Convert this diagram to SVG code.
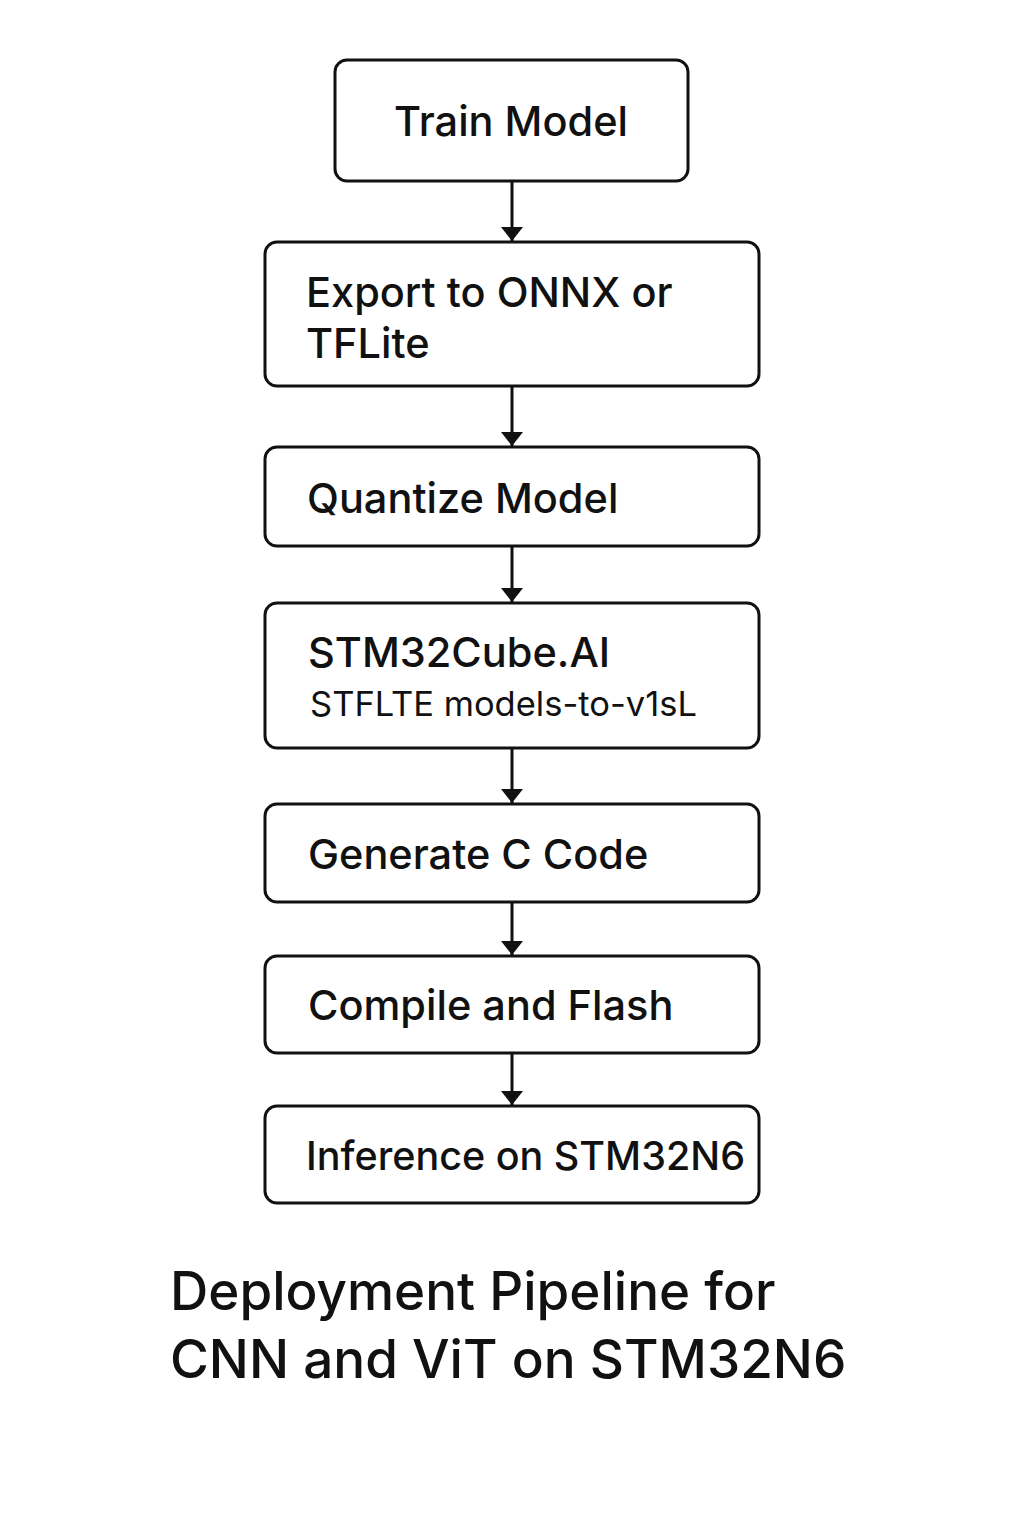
<svg xmlns="http://www.w3.org/2000/svg" width="1024" height="1536" viewBox="0 0 1024 1536">
<defs>
<style>
.box{fill:#fff;stroke:#111;stroke-width:3}
.t{font-family:Inter,"Liberation Sans",sans-serif;font-size:41.5px;font-weight:500;fill:#111}
.s{font-family:Inter,"Liberation Sans",sans-serif;font-size:34.5px;fill:#111}
.title{font-family:Inter,"Liberation Sans",sans-serif;font-size:53px;font-weight:500;fill:#111}
.c{stroke:#111;stroke-width:3;fill:none}
</style>
<marker id="ah" markerWidth="14" markerHeight="22" refX="14" refY="11" orient="auto" markerUnits="userSpaceOnUse" viewBox="0 0 14 22">
<path d="M0,0 L14,11 L0,22 Z" fill="#111"/>
</marker>
</defs>
<rect width="1024" height="1536" fill="#fff"/>
<g id="connectors">
<line class="c" x1="512" y1="182" x2="512" y2="241" marker-end="url(#ah)"/>
<line class="c" x1="512" y1="387" x2="512" y2="446" marker-end="url(#ah)"/>
<line class="c" x1="512" y1="547" x2="512" y2="602" marker-end="url(#ah)"/>
<line class="c" x1="512" y1="749" x2="512" y2="803" marker-end="url(#ah)"/>
<line class="c" x1="512" y1="903" x2="512" y2="955" marker-end="url(#ah)"/>
<line class="c" x1="512" y1="1054" x2="512" y2="1105" marker-end="url(#ah)"/>
</g>
<g id="n1"><rect class="box" x="335" y="60" width="353" height="121" rx="12"/><text class="t" x="511" y="136" text-anchor="middle">Train Model</text></g>
<g id="n2"><rect class="box" x="265" y="242" width="494" height="144" rx="12"/><text class="t" x="306" y="307">Export to ONNX or</text><text class="t" x="306" y="358">TFLite</text></g>
<g id="n3"><rect class="box" x="265" y="447" width="494" height="99" rx="12"/><text class="t" x="307" y="513">Quantize Model</text></g>
<g id="n4"><rect class="box" x="265" y="603" width="494" height="145" rx="12"/><text class="t" x="308" y="667">STM32Cube.AI</text><text class="s" x="310" y="716">STFLTE models-to-v1sL</text></g>
<g id="n5"><rect class="box" x="265" y="804" width="494" height="98" rx="12"/><text class="t" x="308" y="869">Generate C Code</text></g>
<g id="n6"><rect class="box" x="265" y="956" width="494" height="97" rx="12"/><text class="t" x="308" y="1020">Compile and Flash</text></g>
<g id="n7"><rect class="box" x="265" y="1106" width="494" height="97" rx="12"/><text class="t" x="306" y="1170" style="font-size:39.5px">Inference on STM32N6</text></g>
<g id="title"><text class="title" x="170" y="1310">Deployment Pipeline for</text><text class="title" x="170" y="1378">CNN and ViT on STM32N6</text></g>
</svg>
